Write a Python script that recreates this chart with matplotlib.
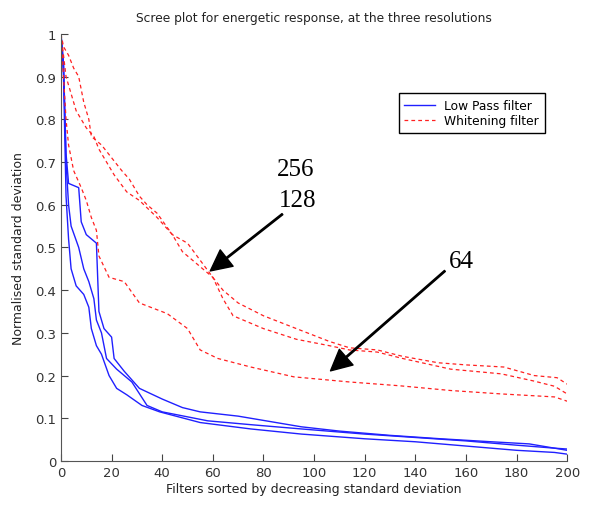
import matplotlib
matplotlib.use("Agg")
import matplotlib.pyplot as plt

# low pass filter curves (filter index, normalised std)
lp_a_x = [0, 1, 2, 3, 7, 8, 10, 14, 15, 17, 20, 21, 25, 31, 40, 48, 55, 70, 95, 110, 130, 150, 170, 185, 195, 200]
lp_a_y = [1, 0.93, 0.72, 0.65, 0.64, 0.56, 0.53, 0.51, 0.35, 0.31, 0.29, 0.24, 0.21, 0.17, 0.145, 0.125, 0.115,
          0.105, 0.08, 0.07, 0.06, 0.052, 0.045, 0.04, 0.03, 0.028]
lp_b_x = [0, 1, 2, 3, 4, 7, 9, 11, 13, 14, 16, 18, 22, 28, 34, 40, 58, 75, 95, 120, 140, 160, 180, 195, 200]
lp_b_y = [1, 0.93, 0.7, 0.6, 0.55, 0.5, 0.45, 0.42, 0.38, 0.33, 0.3, 0.24, 0.215, 0.185, 0.13, 0.115, 0.094,
          0.085, 0.075, 0.063, 0.055, 0.047, 0.037, 0.03, 0.025]
lp_c_x = [0, 1, 2, 3, 4, 6, 9, 11, 12, 14, 16, 19, 22, 26, 32, 39, 55, 75, 95, 120, 140, 160, 180, 195, 200]
lp_c_y = [1, 0.9, 0.62, 0.52, 0.45, 0.41, 0.39, 0.36, 0.31, 0.27, 0.25, 0.2, 0.17, 0.155, 0.13, 0.115, 0.09,
          0.075, 0.063, 0.052, 0.045, 0.035, 0.025, 0.02, 0.016]

# whitening filter curves
wh_256_x = [0, 1, 3, 5, 7, 9, 11, 12, 16, 20, 24, 27, 31, 34, 38, 44, 50, 55, 60, 64, 70, 80, 93, 106, 114,
            125, 135, 149, 160, 175, 187, 196, 200]
wh_256_y = [1, 0.97, 0.95, 0.92, 0.9, 0.84, 0.8, 0.76, 0.74, 0.71, 0.68, 0.66, 0.62, 0.6, 0.58, 0.53, 0.51,
            0.47, 0.43, 0.4, 0.37, 0.34, 0.31, 0.28, 0.265, 0.26, 0.245, 0.23, 0.225, 0.22, 0.2, 0.195, 0.18]
wh_128_x = [0, 1, 2, 4, 6, 10, 13, 15, 18, 21, 26, 31, 38, 44, 48, 54, 60, 64, 68, 80, 93, 106, 114, 125,
            135, 154, 174, 187, 195, 200]
wh_128_y = [1, 0.95, 0.9, 0.86, 0.82, 0.78, 0.76, 0.73, 0.7, 0.67, 0.63, 0.61, 0.57, 0.53, 0.49, 0.46, 0.43,
            0.38, 0.34, 0.31, 0.285, 0.27, 0.26, 0.255, 0.24, 0.215, 0.204, 0.187, 0.175, 0.157]
wh_64_x = [0, 1, 2, 3, 5, 8, 10, 12, 14, 15, 19, 25, 31, 42, 50, 55, 62, 75, 92, 114, 134, 154, 174, 195, 200]
wh_64_y = [1, 0.9, 0.8, 0.74, 0.68, 0.64, 0.61, 0.57, 0.54, 0.48, 0.43, 0.42, 0.37, 0.345, 0.31, 0.26, 0.24,
           0.22, 0.197, 0.185, 0.176, 0.165, 0.157, 0.15, 0.14]

xticks = list(range(0, 201, 20))
yticks = [0, 0.1, 0.2, 0.3, 0.4, 0.5, 0.6, 0.7, 0.8, 0.9, 1]
ytick_labels = ['0', '0.1', '0.2', '0.3', '0.4', '0.5', '0.6', '0.7', '0.8', '0.9', '1']

fig = plt.figure(figsize=(5.92, 5.06), dpi=100)
ax = fig.add_axes([0.103, 0.087, 0.855, 0.844])

blue = '#2020ff'
red = '#ff2020'
l1, = ax.plot(lp_a_x, lp_a_y, color=blue, lw=1.0)
ax.plot(lp_b_x, lp_b_y, color=blue, lw=1.0)
ax.plot(lp_c_x, lp_c_y, color=blue, lw=1.0)
l2, = ax.plot(wh_256_x, wh_256_y, '--', color=red, lw=0.9, dashes=(3, 2.5))
ax.plot(wh_128_x, wh_128_y, '--', color=red, lw=0.9, dashes=(3, 2.5))
ax.plot(wh_64_x, wh_64_y, '--', color=red, lw=0.9, dashes=(3, 2.5))

ax.set_xlim(0, 200)
ax.set_ylim(0, 1)
ax.set_xticks(xticks)
ax.set_yticks(yticks)
ax.set_yticklabels(ytick_labels)
ax.tick_params(direction='in', length=5, labelsize=9.5, colors='#444444', labelcolor='#333333')
for s in ['top', 'right']:
    ax.spines[s].set_visible(False)
for s in ['left', 'bottom']:
    ax.spines[s].set_color('#555555')

ax.set_title('Scree plot for energetic response, at the three resolutions', fontsize=8.8,
             color='#222222', pad=9)
ax.set_xlabel('Filters sorted by decreasing standard deviation', fontsize=9, color='#222222', labelpad=2)
ax.set_ylabel('Normalised standard deviation', fontsize=9, color='#222222', labelpad=7)

leg = ax.legend([l1, l2], ['Low Pass filter', 'Whitening filter'], loc='upper left',
                bbox_to_anchor=(0.655, 0.875), fontsize=8.8, fancybox=False, framealpha=1,
                edgecolor='black', handlelength=2.5, borderpad=0.45, labelspacing=0.2)
leg.get_frame().set_linewidth(1.0)

# resolution annotations
arrow = dict(facecolor='black', edgecolor='black', width=1, headwidth=15, headlength=15, shrink=0)
ax.annotate('', xy=(59, 0.445), xytext=(87.5, 0.578), arrowprops=arrow)
ax.annotate('', xy=(106.5, 0.211), xytext=(151.7, 0.445), arrowprops=arrow)
ax.text(92.7, 0.684, '256', fontsize=18, family='Liberation Serif', ha='center', va='center')
ax.text(93.5, 0.61, '128', fontsize=18, family='Liberation Serif', ha='center', va='center')
ax.text(158.4, 0.468, '64', fontsize=18, family='Liberation Serif', ha='center', va='center')

fig.savefig('out.png', dpi=100)
